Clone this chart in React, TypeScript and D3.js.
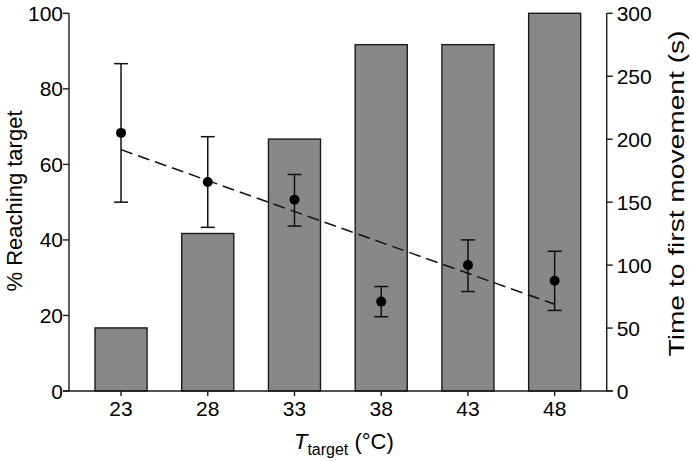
import React from "react";
import * as d3 from "d3";

const temps = ["23", "28", "33", "38", "43", "48"];
const pctReaching = [16.7, 41.7, 66.7, 91.7, 91.7, 100];
const timeMean = [205, 166, 152, 71, 100, 87.6];
const timeLow = [150, 130, 131, 59, 79, 64];
const timeHigh = [260, 202, 172, 83, 120, 111];
const fitX = ["23", "48"];
const fitY = [191.7, 68.9];
const leftTicks = [0, 20, 40, 60, 80, 100];
const rightTicks = [0, 50, 100, 150, 200, 250, 300];

const W = 692;
const H = 461;
const M = { left: 69, right: 606.7, top: 13.3, bottom: 391 };
const FONT = "'Liberation Sans', Arial, Helvetica, sans-serif";

export default function App() {
  const x = d3.scalePoint<string>().domain(temps).range([M.left, M.right]).padding(0.6);
  const step = x.step();
  const barW = step * 0.6;
  const yL = d3.scaleLinear().domain([0, 100]).range([M.bottom, M.top]);
  const yR = d3.scaleLinear().domain([0, 300]).range([M.bottom, M.top]);
  const fitLine = d3
    .line<number>()
    .x((_, i) => x(fitX[i]) as number)
    .y((d) => yR(d));

  const stroke = "#1a1a1a";
  return (
    <svg
      width={W}
      height={H}
      style={{ position: "absolute", left: 0, top: 0, background: "#fff" }}
      fontFamily={FONT}
    >
      {/* bars */}
      {temps.map((t, i) => (
        <rect
          key={"b" + t}
          x={(x(t) as number) - barW / 2}
          y={yL(pctReaching[i])}
          width={barW}
          height={yL(0) - yL(pctReaching[i])}
          fill="#888888"
          stroke={stroke}
          strokeWidth={1.4}
        />
      ))}
      {/* fit line */}
      <path
        d={fitLine(fitY) || ""}
        fill="none"
        stroke="#111"
        strokeWidth={1.5}
        strokeDasharray="12,6"
      />
      {/* error bars and points */}
      {temps.map((t, i) => {
        const cx = x(t) as number;
        return (
          <g key={"e" + t}>
            <line x1={cx} x2={cx} y1={yR(timeLow[i])} y2={yR(timeHigh[i])} stroke="#111" strokeWidth={1.5} />
            <line x1={cx - 7} x2={cx + 7} y1={yR(timeLow[i])} y2={yR(timeLow[i])} stroke="#111" strokeWidth={1.5} />
            <line x1={cx - 7} x2={cx + 7} y1={yR(timeHigh[i])} y2={yR(timeHigh[i])} stroke="#111" strokeWidth={1.5} />
            <circle cx={cx} cy={yR(timeMean[i])} r={5} fill="#000" />
          </g>
        );
      })}
      {/* axes */}
      <line x1={M.left} x2={M.left} y1={M.top} y2={M.bottom} stroke={stroke} strokeWidth={1.4} />
      <line x1={M.right} x2={M.right} y1={M.top} y2={M.bottom} stroke={stroke} strokeWidth={1.4} />
      <line x1={M.left - 6} x2={M.right + 6} y1={M.bottom} y2={M.bottom} stroke={stroke} strokeWidth={1.4} />
      {leftTicks.map((v) => (
        <g key={"l" + v}>
          <line x1={M.left - 6} x2={M.left} y1={yL(v)} y2={yL(v)} stroke={stroke} strokeWidth={1.4} />
          <text x={M.left - 6} y={yL(v)} dy="0.36em" textAnchor="end" fontSize={21} fill="#000">
            {v}
          </text>
        </g>
      ))}
      {rightTicks.map((v) => (
        <g key={"r" + v}>
          <line x1={M.right} x2={M.right + 6} y1={yR(v)} y2={yR(v)} stroke={stroke} strokeWidth={1.4} />
          <text x={M.right + 10} y={yR(v)} dy="0.36em" textAnchor="start" fontSize={21} fill="#000">
            {v}
          </text>
        </g>
      ))}
      {temps.map((t) => (
        <g key={"x" + t}>
          <line x1={x(t) as number} x2={x(t) as number} y1={M.bottom} y2={M.bottom + 5} stroke={stroke} strokeWidth={1.4} />
          <text x={x(t) as number} y={415.5} textAnchor="middle" fontSize={21} fill="#000">
            {t}
          </text>
        </g>
      ))}
      {/* axis titles */}
      <text
        transform={`translate(22, 201) rotate(-90)`}
        textAnchor="middle"
        fontSize={22}
        fill="#000"
      >
        % Reaching target
      </text>
      <text
        transform={`translate(684, 193.5) rotate(-90)`}
        textAnchor="middle"
        fontSize={22}
        textLength={326}
        lengthAdjust="spacingAndGlyphs"
        fill="#000"
      >
        Time to first movement (s)
      </text>
      <text x={(M.left + M.right) / 2 + 6} y={449} textAnchor="middle" fontSize={22} fill="#000">
        <tspan fontStyle="italic">T</tspan>
        <tspan fontSize={16} dy={6}>target</tspan>
        <tspan dy={-6}> (°C)</tspan>
      </text>
    </svg>
  );
}
